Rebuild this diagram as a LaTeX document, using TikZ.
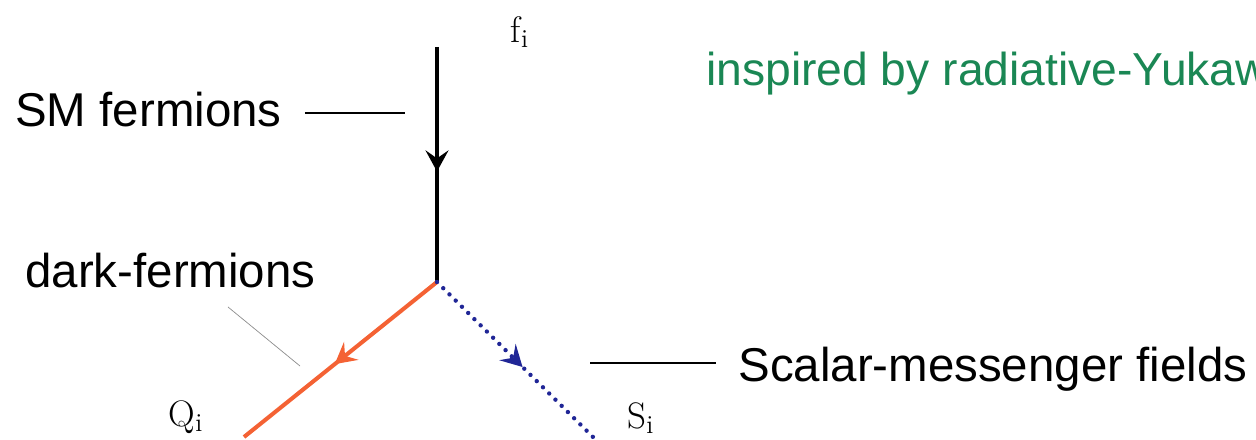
\documentclass[tikz,border=0pt]{standalone}
\usepackage{fontspec}
\usepackage{xcolor}
\usetikzlibrary{arrows.meta, decorations.markings, positioning, calc}
\newfontfamily\labelfont{Liberation Sans}
\definecolor{quarkorange}{RGB}{244,98,52}
\definecolor{scalarblue}{RGB}{32,38,150}
\definecolor{notegreen}{RGB}{26,135,84}
\tikzset{
  fermion/.style={draw=black, line width=2.3pt, postaction={decorate},
    decoration={markings, mark=at position #1 with {\arrow{Stealth[length=12pt,width=13pt,inset=4.5pt]}}}},
  fermion/.default=0.55,
  scalar/.style={draw=scalarblue, line width=2.5pt, line cap=round,
    dash pattern=on 0pt off 5pt, postaction={decorate},
    decoration={markings, mark=at position #1 with {\arrow{Stealth[length=12pt,width=13pt,inset=4.5pt]}}}},
  scalar/.default=0.55,
  field/.style ={inner sep=0pt, font=\fontsize{21}{25}\selectfont},
  txt/.style   ={inner sep=0pt, anchor=base west, font=\labelfont\fontsize{27}{32}\selectfont},
  note/.style  ={txt, text=notegreen, font=\labelfont\fontsize{26.3}{31}\selectfont},
  pointer/.style={draw=black, line width=0.6pt},   % label leader line
}
\begin{document}
\begin{tikzpicture}[x=0.2mm, y=-0.2mm]
\useasboundingbox (0,0) rectangle (1256,440);

% vertex and legs
\coordinate (vtx) at (437,282);
\coordinate (ftop) at (437,47);
\coordinate (qend) at (244,437);
\coordinate (send) at (593,437);

\draw[fermion=0.53] (ftop) -- (vtx);
\draw[fermion=0.53, draw=quarkorange] (vtx) -- (qend);
\draw[scalar=0.55] (vtx) -- (send);

\node[field] (flab) at (520,32) {$\mathrm{f}_\mathrm{i}$};
\node[field] (qlab) at (186,417) {$\mathrm{Q}_\mathrm{i}$};
\node[field] (slab) at (641,418) {$\mathrm{S}_\mathrm{i}$};

% labels
\node[txt] (smlab) at (15,127) {SM fermions};
\node[txt] (darklab) at (25,288) {dark-fermions};
\node[txt] (scalab) at (738,382) {Scalar-messenger fields};
\node[note] (motiv) at (706,86) {inspired by radiative-Yukawa};

\coordinate (smtip) at (405,113);
\coordinate (darkfoot) at (228,307);
\coordinate (darktip) at (300,366);
\coordinate (scaltip) at (590,363);

\draw[pointer, shorten <=4.6mm] (smlab.east |- smtip) -- (smtip);
\draw[pointer, draw=black!45, line width=0.4pt] (darkfoot) -- (darktip);
\draw[pointer, shorten >=4.4mm] (scaltip) -- (scaltip -| scalab.west);

\end{tikzpicture}
\end{document}
